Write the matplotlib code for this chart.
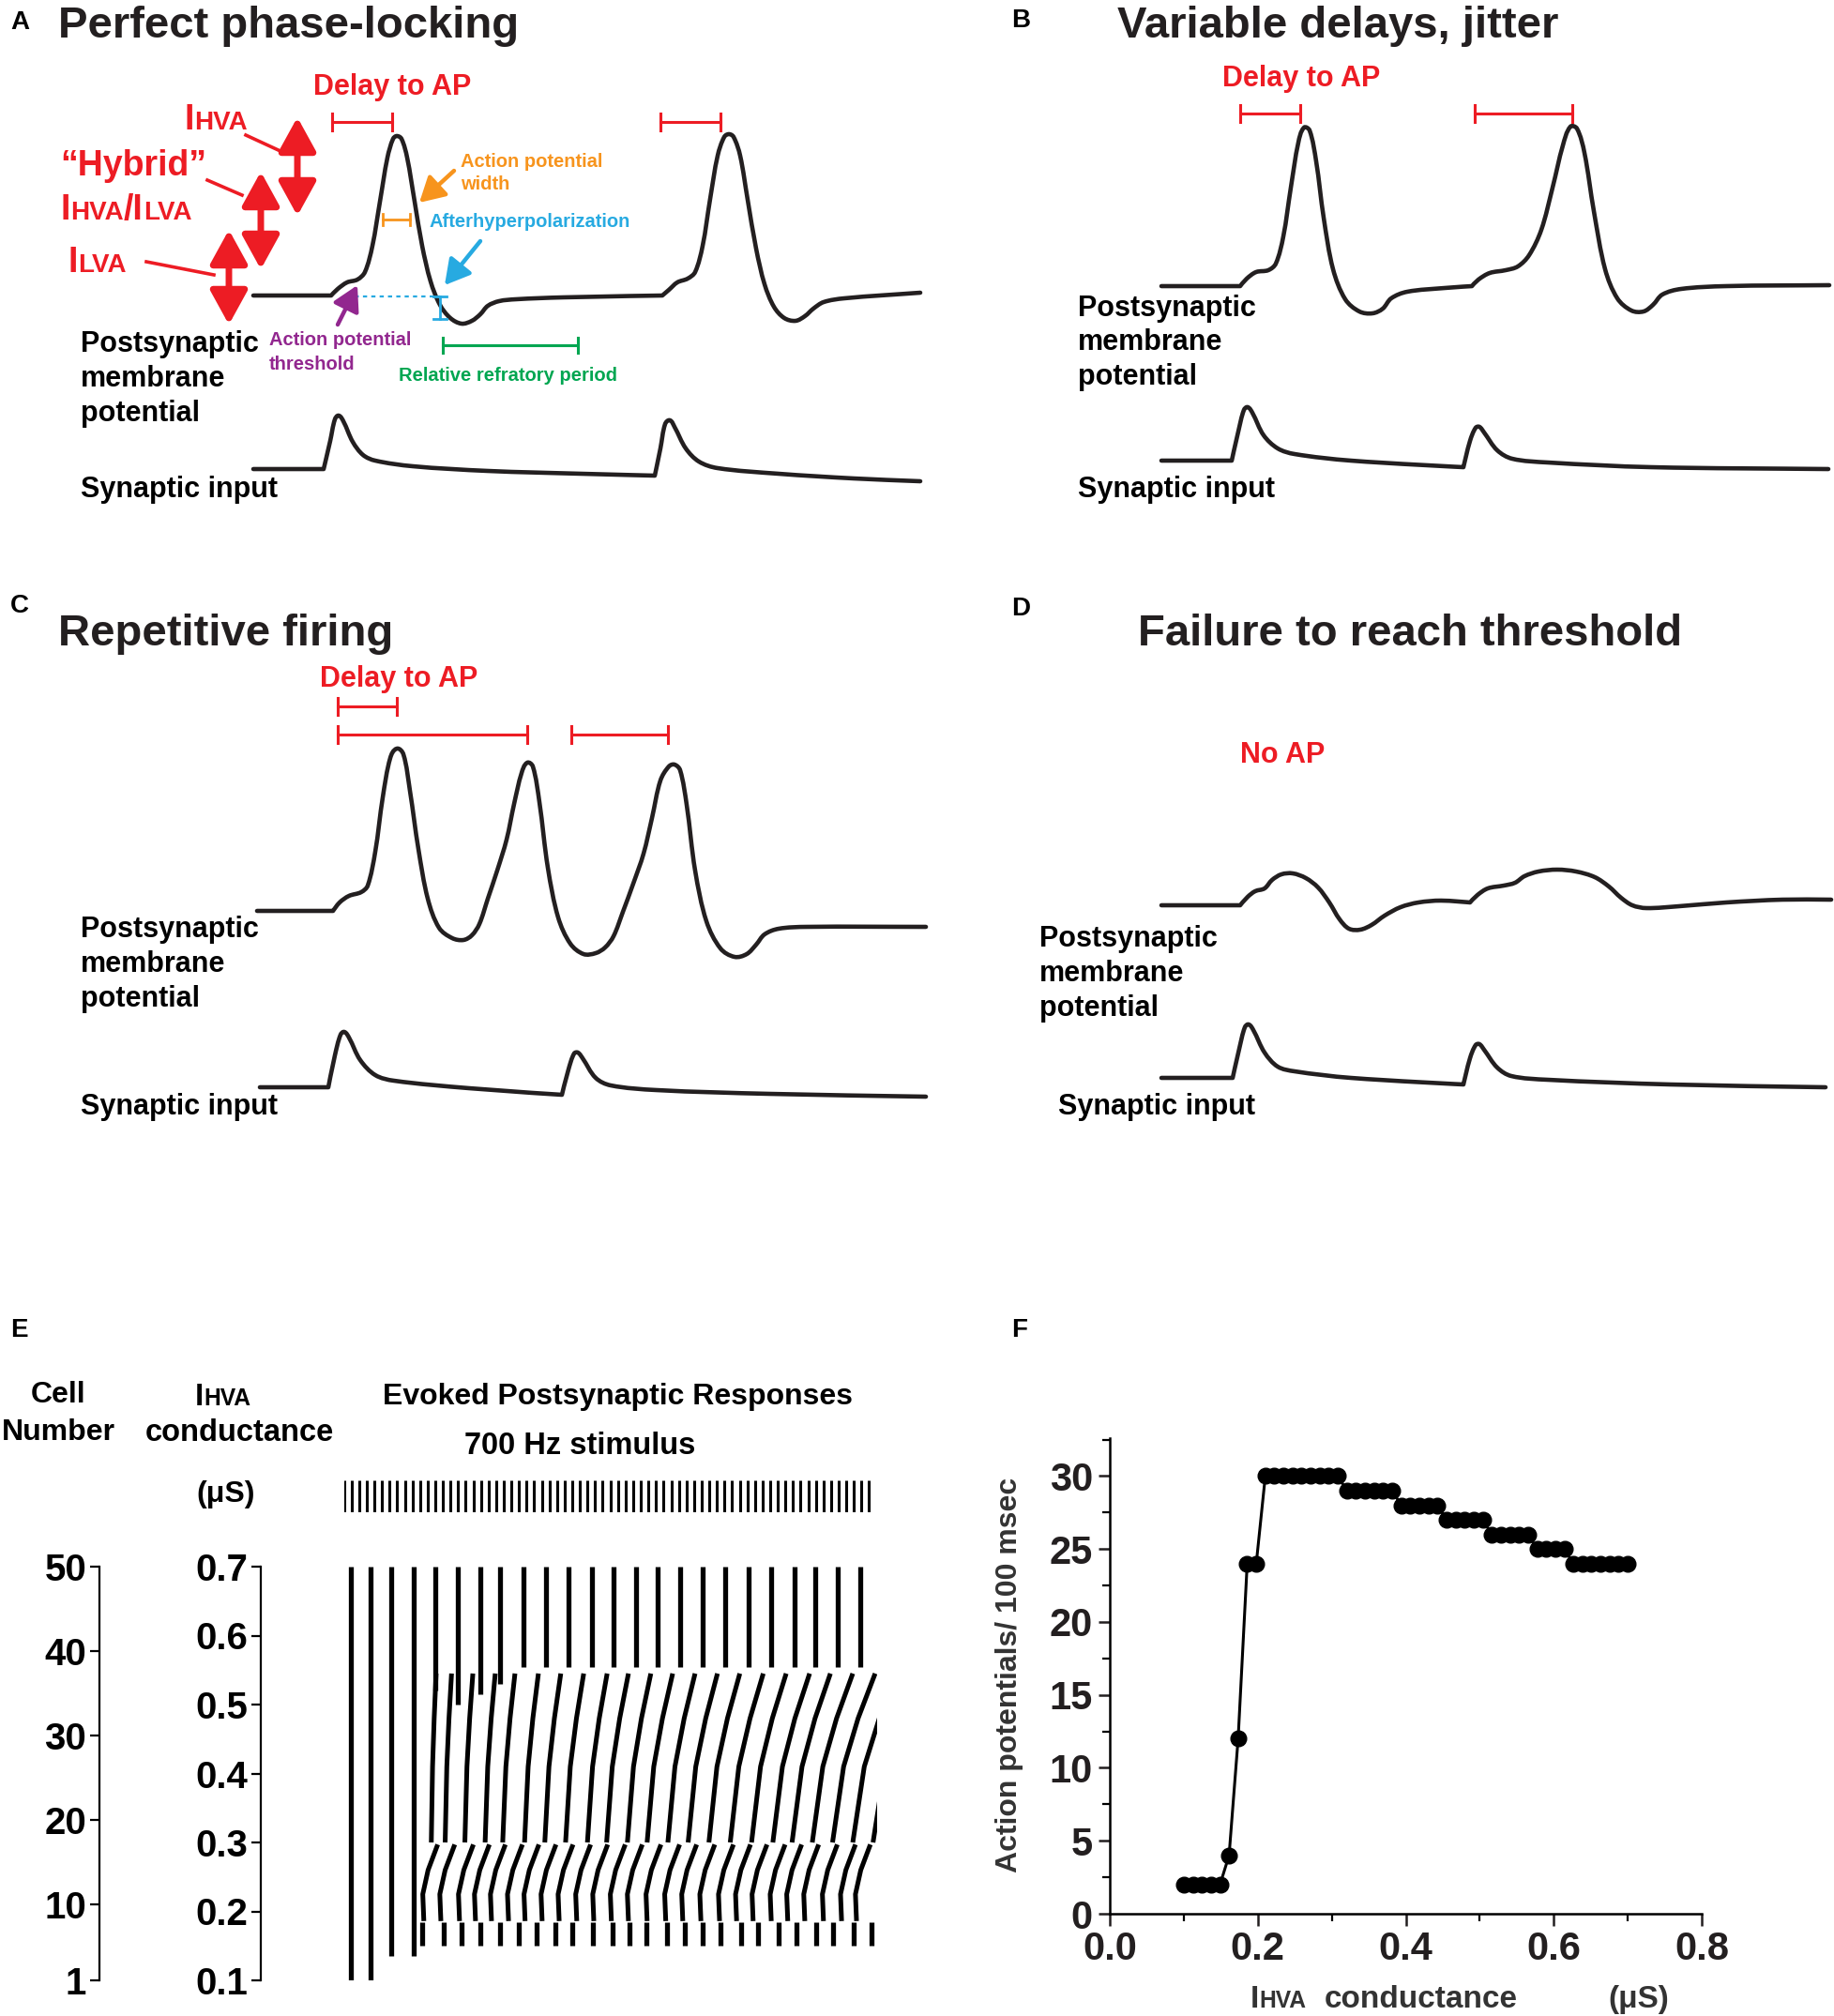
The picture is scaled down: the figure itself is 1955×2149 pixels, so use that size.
import numpy as np
import matplotlib
matplotlib.use("Agg")
import matplotlib.pyplot as plt
from matplotlib.path import Path
from matplotlib.patches import PathPatch

plt.rcParams['font.family'] = ['Liberation Sans', 'DejaVu Sans']
plt.rcParams['font.weight'] = 'bold'

W, H = 1955, 2149
INK = '#231f20'
RED = '#ed1c24'
ORANGE = '#f7941d'
BLUE = '#27aae1'
PURPLE = '#92278f'
GREEN = '#00a651'

# ---- schematic traces (figure pixel coords, y down); a third item 1 marks a sharp corner ----
vm_A = [(270, 315), (353, 315, 1), (360, 308), (370, 301), (381, 298), (389, 290), (397, 262), (405, 215),
        (413, 168), (419, 148), (423, 145), (428, 148), (434, 168), (442, 215), (450, 262), (459, 300),
        (469, 325), (480, 339), (492, 345), (503, 342), (512, 335), (520, 326), (532, 321), (550, 319),
        (600, 317), (706, 315, 1), (713, 309), (722, 301), (733, 297), (741, 290), (749, 262), (757, 212),
        (765, 166), (772, 146), (777, 143), (782, 146), (789, 166), (797, 213), (806, 265), (815, 303),
        (825, 327), (836, 339), (848, 342), (858, 337), (867, 329), (878, 322), (900, 318), (981, 312)]
syn_A = [(270, 500), (345, 500, 1), (352, 470), (357, 447), (361, 443), (366, 449), (376, 471), (387, 485),
         (400, 491), (440, 497), (520, 502), (620, 505), (698, 507, 1), (704, 478), (709, 452), (714, 448),
         (719, 455), (731, 478), (745, 492), (765, 499), (830, 505), (910, 510), (981, 513)]

vm_B = [(1238, 305), (1322, 305, 1), (1329, 297), (1339, 290), (1352, 288), (1360, 281), (1368, 252),
        (1376, 200), (1384, 152), (1390, 136), (1396, 139), (1403, 172), (1411, 232), (1421, 287),
        (1434, 319), (1449, 332), (1463, 334), (1474, 329), (1483, 318), (1500, 311), (1540, 307),
        (1569, 305, 1), (1576, 298), (1588, 291), (1605, 288), (1618, 284), (1630, 272), (1643, 245),
        (1655, 200), (1666, 155), (1674, 135), (1681, 137), (1689, 163), (1699, 225), (1711, 287),
        (1724, 318), (1739, 331), (1752, 332), (1762, 325), (1772, 314), (1792, 308), (1840, 305),
        (1950, 304)]
syn_B = [(1238, 491), (1313, 491, 1), (1320, 460), (1326, 437), (1330, 434), (1335, 440), (1347, 464),
         (1362, 478), (1380, 484), (1440, 491), (1560, 498, 1), (1567, 470), (1573, 456), (1577, 455),
         (1582, 461), (1596, 480), (1612, 489), (1650, 493), (1760, 498), (1949, 500)]

vm_C = [(274, 971), (355, 971, 1), (362, 962), (372, 955), (385, 951), (392, 944), (400, 908), (408, 850),
        (416, 808), (423, 798), (430, 804), (437, 843), (446, 905), (456, 958), (468, 989), (482, 1000),
        (494, 1002), (503, 997), (511, 985), (520, 958), (530, 928), (540, 895), (548, 857), (556, 824),
        (562, 813), (568, 817), (575, 855), (584, 925), (595, 978), (608, 1006), (622, 1017), (635, 1016),
        (645, 1010), (654, 998), (664, 972), (675, 942), (686, 910), (695, 872), (704, 832), (713, 817),
        (719, 815), (725, 821), (732, 858), (741, 928), (753, 982), (768, 1011), (783, 1020), (796, 1017),
        (806, 1007), (815, 996), (830, 990), (860, 988), (987, 988)]
syn_C = [(277, 1159), (350, 1159, 1), (357, 1125), (363, 1103), (367, 1100), (372, 1106), (384, 1130),
         (400, 1146), (420, 1152), (500, 1160), (599, 1167, 1), (606, 1140), (612, 1123), (616, 1122),
         (621, 1128), (635, 1149), (651, 1157), (700, 1162), (820, 1166), (987, 1169)]

vm_D = [(1238, 965), (1322, 965, 1), (1330, 956), (1338, 950), (1348, 947), (1356, 938), (1366, 932),
        (1378, 931), (1392, 936), (1405, 946), (1417, 962), (1428, 980), (1438, 990), (1450, 991),
        (1462, 986), (1476, 976), (1493, 967), (1512, 962), (1536, 960), (1567, 962, 1), (1575, 954),
        (1586, 947), (1603, 944), (1615, 941), (1625, 934), (1640, 929), (1660, 927), (1680, 929),
        (1700, 935), (1715, 945), (1728, 957), (1740, 965), (1755, 968), (1790, 966), (1840, 962),
        (1900, 959), (1952, 959)]
syn_D = [(1238, 1149), (1314, 1149, 1), (1321, 1118), (1327, 1095), (1331, 1092), (1336, 1098),
         (1348, 1122), (1362, 1137), (1380, 1142), (1440, 1149), (1560, 1156, 1), (1567, 1128),
         (1573, 1114), (1577, 1113), (1582, 1119), (1596, 1138), (1611, 1147), (1650, 1151),
         (1780, 1156), (1946, 1159)]

# ---- panel E raster (time in ms, conductance in uS) ----
stim_rate_hz = 700
stim_times = np.arange(70) * 1000.0 / stim_rate_hz
top_times = [1.3, 5.0, 8.9, 13.1, 17.1, 21.4, 25.6, 29.3, 33.7, 37.9, 42.2, 46.6,
             50.6, 54.8, 58.9, 63.1, 67.3, 71.5, 75.9, 80.2, 84.6, 88.5, 92.7, 96.9]
top_low_g = [0.10, 0.10, 0.135, 0.135, 0.52, 0.50, 0.515, 0.53, 0.555, 0.555, 0.555, 0.555,
             0.555, 0.555, 0.555, 0.555, 0.555, 0.555, 0.555, 0.555, 0.555, 0.555, 0.555, 0.555]
band1_g = [0.30, 0.41, 0.48, 0.545]
band1_frac = [0.0, 0.26, 0.6, 1.0]
band1_times = [16.4, 19.0, 22.7, 26.5, 29.8, 33.9, 37.7, 41.6, 45.7, 49.3, 53.2, 56.9, 60.8,
               64.6, 68.5, 72.5, 76.5, 80.5, 84.1, 87.9, 91.7, 95.5, 99.3]
band1_shift = [0.9, 1.2, 1.5, 1.9, 2.3, 2.6, 3.0, 3.4, 3.7, 4.1, 4.4, 4.8, 5.1,
               5.5, 5.8, 6.2, 6.5, 6.9, 7.2, 7.6, 8.0, 8.3, 8.6]
band2_g = [0.186, 0.225, 0.26, 0.297]
band2_dt = [0.0, -0.2, 0.8, 2.6]
band2_times = [15.0, 18.2, 21.7, 24.7, 27.7, 30.9, 34.0, 37.2, 40.4, 43.7, 46.9, 50.2, 53.4,
               56.9, 60.4, 63.6, 67.0, 70.5, 73.7, 76.8, 80.2, 83.3, 86.5, 90.0, 93.4, 96.2]
dash_times = [14.7, 18.8, 22.1, 25.6, 29.3, 32.9, 36.2, 39.7, 42.9, 46.8, 50.4, 53.6, 56.8,
              60.6, 63.9, 67.3, 70.6, 74.5, 77.7, 81.6, 84.9, 88.6, 91.8, 95.7, 99.0]

# ---- panel F ----
conductance = np.linspace(0.1, 0.7, 50)
ap_counts = [2, 2, 2, 2, 2, 4, 12, 24, 24,
             30, 30, 30, 30, 30, 30, 30, 30, 30,
             29, 29, 29, 29, 29, 29,
             28, 28, 28, 28, 28,
             27, 27, 27, 27, 27,
             26, 26, 26, 26, 26,
             25, 25, 25, 25,
             24, 24, 24, 24, 24, 24, 24]


def px_rect(x0, y0, x1, y1):
    return [x0 / W, 1 - y1 / H, (x1 - x0) / W, (y1 - y0) / H]


def smooth(pts):
    # smooth curve through the vertices, tangents scaled by chord length; corners stay sharp
    P = np.asarray([p[:2] for p in pts], float)
    corner = [len(p) > 2 for p in pts]
    n = len(P)
    d = np.zeros_like(P)
    for i in range(n):
        if corner[i]:
            continue
        v = P[min(i + 1, n - 1)] - P[max(i - 1, 0)]
        d[i] = v / (np.hypot(*v) + 1e-9)
    verts = [P[0]]
    codes = [Path.MOVETO]
    for i in range(n - 1):
        L = np.hypot(*(P[i + 1] - P[i])) / 3
        verts += [P[i] + d[i] * L, P[i + 1] - d[i + 1] * L, P[i + 1]]
        codes += [Path.CURVE4] * 3
    return Path(verts, codes)


fig = plt.figure(figsize=(W / 100, H / 100), dpi=100)
ov = fig.add_axes([0, 0, 1, 1])
ov.set_xlim(0, W)
ov.set_ylim(H, 0)
ov.axis('off')
renderer = fig.canvas.get_renderer()


def trace(pts):
    ov.add_patch(PathPatch(smooth(pts), fill=False, lw=3.3, ec=INK, capstyle='round', joinstyle='round'))


def sc_text(x, y, parts, size, color):
    # big/small caps pieces on one baseline
    for s, small in parts:
        t = ov.text(x, y, s, fontsize=size * (0.74 if small else 1.0), color=color,
                    va='baseline', ha='left')
        bb = t.get_window_extent(renderer)
        x = bb.x1


def bracket(x1, x2, y, h, color, lw=2.2):
    ov.plot([x1, x2], [y, y], color=color, lw=lw)
    ov.plot([x1, x1], [y - h, y + h], color=color, lw=lw)
    ov.plot([x2, x2], [y - h, y + h], color=color, lw=lw)


def arrow(tail, head, color, lw=3.2, hl=0.8, hw=0.45, ms=20, style='-|>'):
    ov.annotate('', xy=head, xytext=tail,
                arrowprops=dict(arrowstyle='%s,head_length=%s,head_width=%s' % (style, hl, hw),
                                mutation_scale=ms, lw=lw, color=color, shrinkA=0, shrinkB=0))


for pts in [vm_A, syn_A, vm_B, syn_B, vm_C, syn_C, vm_D, syn_D]:
    trace(pts)

# panel letters and titles
for lab, x, y in [('A', 11, 24), ('B', 1078, 22), ('C', 11, 646), ('D', 1078, 649), ('E', 11, 1418), ('F', 1078, 1418)]:
    ov.text(x, y, lab, fontsize=20, color='black', va='center', ha='left')
for txt, x, y in [('Perfect phase-locking', 62, 28), ('Variable delays, jitter', 1191, 28),
                  ('Repetitive firing', 62, 676), ('Failure to reach threshold', 1213, 676)]:
    ov.text(x, y, txt, fontsize=34, color=INK, va='center', ha='left')

for x, ys in [(86, (367, 404, 441)), (1149, (329, 365, 402)), (86, (991, 1028, 1065)), (1108, (1001, 1038, 1075))]:
    for s, y in zip(['Postsynaptic', 'membrane', 'potential'], ys):
        ov.text(x, y, s, fontsize=22, color='black', va='center', ha='left')
for x, y in [(86, 522), (1149, 522), (86, 1180), (1128, 1180)]:
    ov.text(x, y, 'Synaptic input', fontsize=22, color='black', va='center', ha='left')

# delay annotations
for x, y in [(418, 93), (1387, 84), (425, 724)]:
    ov.text(x, y, 'Delay to AP', fontsize=22, color=RED, va='center', ha='center')
ov.text(1367, 805, 'No AP', fontsize=22, color=RED, va='center', ha='center')
for x1, x2, y in [(354, 418, 130), (704, 768, 130), (1322, 1386, 121), (1572, 1676, 121),
                  (360, 423, 753), (360, 562, 783), (609, 712, 783)]:
    bracket(x1, x2, y, 9, RED)

# current labels in panel A
sc_text(197, 138, [('I', False), ('HVA', True)], 27, RED)
ov.text(64, 177, '\u201cHybrid\u201d', fontsize=27, color=RED, va='center', ha='left')
sc_text(65, 234, [('I', False), ('HVA', True), ('/I', False), ('LVA', True)], 27, RED)
sc_text(73, 290, [('I', False), ('LVA', True)], 27, RED)
for (x0, y0), (x1, y1) in [((262, 144), (301, 162)), ((221, 192), (258, 208)), ((156, 279), (228, 293))]:
    ov.plot([x0, x1], [y0, y1], color=RED, lw=2.6)
for x, y0, y1 in [(317, 125, 230), (278, 183, 287), (244, 245, 346)]:
    arrow((x, y0), (x, y1), RED, lw=5.0, hl=1.0, hw=0.55, ms=22, style='<|-|>')

# AP features
ov.text(491, 173, 'Action potential', fontsize=14.5, color=ORANGE, va='center', ha='left')
ov.text(491, 196, 'width', fontsize=14.5, color=ORANGE, va='center', ha='left')
arrow((484, 182), (447, 216), ORANGE)
bracket(408, 437, 234, 6, ORANGE, lw=2)
ov.text(458, 237, 'Afterhyperpolarization', fontsize=14.5, color=BLUE, va='center', ha='left')
arrow((512, 257), (474, 304), BLUE)
ov.plot([378, 469], [316, 316], color=BLUE, lw=1.6, ls=(0, (2, 2)))
ov.plot([469, 469], [316, 340], color=BLUE, lw=2)
ov.plot([462, 476], [316, 316], color=BLUE, lw=2)
ov.plot([462, 476], [340, 340], color=BLUE, lw=2)
ov.text(287, 363, 'Action potential', fontsize=14.5, color=PURPLE, va='center', ha='left')
ov.text(287, 388, 'threshold', fontsize=14.5, color=PURPLE, va='center', ha='left')
arrow((360, 346), (381, 304), PURPLE)
bracket(472, 616, 368, 8, GREEN)
ov.text(425, 400, 'Relative refratory period', fontsize=14.5, color=GREEN, va='center', ha='left')

# ---- panel E ----
ov.text(62, 1487, 'Cell', fontsize=23, color='black', va='center', ha='center')
ov.text(62, 1527, 'Number', fontsize=23, color='black', va='center', ha='center')
sc_text(208, 1498, [('I', False), ('HVA', True)], 24, 'black')
ov.text(255, 1527, 'conductance', fontsize=23.5, color='black', va='center', ha='center')
ov.text(241, 1593, '(\u03bcS)', fontsize=23, color='black', va='center', ha='center')
ov.text(659, 1489, 'Evoked Postsynaptic Responses', fontsize=23, color='black', va='center', ha='center')
ov.text(618, 1541, '700 Hz stimulus', fontsize=23.5, color='black', va='center', ha='center')

t0_px, t1_px = 366.6, 934.6
sx = fig.add_axes(px_rect(t0_px, 1578, t1_px, 1612))
sx.vlines(stim_times, 0, 1, color='black', lw=2.2)
sx.set_xlim(0, 100)
sx.set_ylim(0, 1)
sx.axis('off')

rx = fig.add_axes(px_rect(t0_px, 1670, t1_px, 2111))
rx.set_xlim(0, 100)
rx.set_ylim(0.1, 0.7)
rx.axis('off')
rx.vlines(top_times, top_low_g, 0.7, color='black', lw=3.8)
for t, s in zip(band1_times, band1_shift):
    rx.plot(t + s * np.array(band1_frac), band1_g, color='black', lw=3.6, solid_capstyle='butt')
for t in band2_times:
    rx.plot(t + np.array(band2_dt), band2_g, color='black', lw=3.6, solid_capstyle='butt')
rx.vlines(dash_times, 0.15, 0.185, color='black', lw=3.8)


def side_axis(x, lo, hi, ticks, labels):
    a = fig.add_axes(px_rect(x, 1670, x + 20, 2111))
    a.set_ylim(lo, hi)
    a.set_xticks([])
    for s in ['top', 'right', 'bottom']:
        a.spines[s].set_visible(False)
    a.spines['left'].set_linewidth(1.6)
    a.set_yticks(ticks)
    a.set_yticklabels(labels)
    a.tick_params(axis='y', direction='out', length=7, width=1.6, labelsize=29, pad=3)
    a.patch.set_alpha(0)


side_axis(106, 1, 50, [1, 10, 20, 30, 40, 50], ['1', '10', '20', '30', '40', '50'])
side_axis(278, 0.1, 0.7, [0.1, 0.2, 0.3, 0.4, 0.5, 0.6, 0.7],
          ['0.1', '0.2', '0.3', '0.4', '0.5', '0.6', '0.7'])

# ---- panel F ----
fx = fig.add_axes(px_rect(1183, 1533, 1814, 2040))
fx.plot(conductance, ap_counts, '-o', color='black', lw=2.2, ms=12)
fx.set_xlim(0, 0.8)
fx.set_ylim(0, 32.6)
fx.set_xticks([0, 0.2, 0.4, 0.6, 0.8])
fx.set_xticklabels(['0.0', '0.2', '0.4', '0.6', '0.8'])
fx.set_xticks([0.1, 0.3, 0.5, 0.7], minor=True)
fx.set_yticks([0, 5, 10, 15, 20, 25, 30])
fx.set_yticks([2.5, 7.5, 12.5, 17.5, 22.5, 27.5, 32.5], minor=True)
for s in ['top', 'right']:
    fx.spines[s].set_visible(False)
for s in ['left', 'bottom']:
    fx.spines[s].set_linewidth(1.8)
fx.tick_params(which='major', direction='out', length=9, width=1.8, labelsize=30, pad=4, colors=INK)
fx.tick_params(which='minor', direction='out', length=6, width=1.6)
fx.patch.set_alpha(0)
ov.text(1076, 1785, 'Action potentials/ 100 msec', fontsize=23, color='#333333', rotation=90,
        va='center', ha='center')
sc_text(1333, 2140, [('I', False), ('HVA', True)], 24, '#333333')
ov.text(1412, 2140, 'conductance', fontsize=24, color='#333333', va='baseline', ha='left')
ov.text(1714, 2140, '(\u03bcS)', fontsize=24, color='#333333', va='baseline', ha='left')

fig.savefig('out.png', dpi=100)
